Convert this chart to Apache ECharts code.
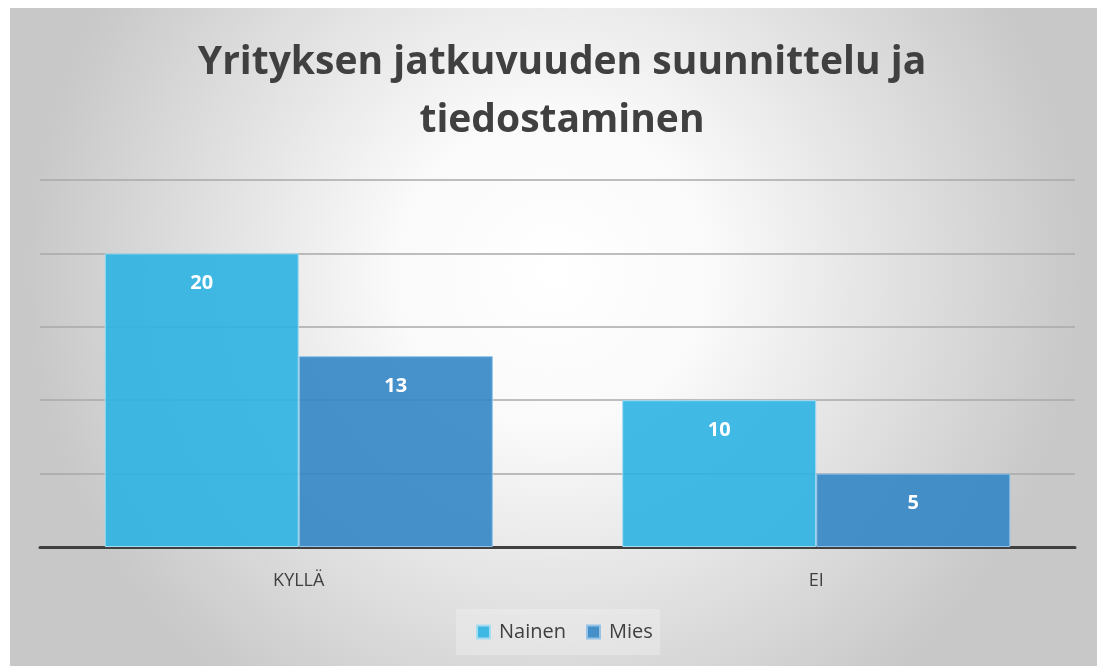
<!DOCTYPE html>
<html>
<head>
<meta charset="utf-8">
<script src="https://cdn.jsdelivr.net/npm/echarts@6/dist/echarts.min.js"></script>
<style>
html,body{margin:0;padding:0;background:#fff;}
#c{width:1097px;height:666px;}
</style>
</head>
<body>
<div id="c"></div>
<script>
const categories = ['KYLLÄ', 'EI'];
const seriesNames = ['Nainen', 'Mies'];
const nainen = [20, 10];
const mies = [13, 5];
const titleText = 'Yrityksen jatkuvuuden suunnittelu ja\ntiedostaminen';

const chart = echarts.init(document.getElementById('c'));
const font = '"Open Sans", sans-serif';
chart.setOption({
  animation: false,
  backgroundColor: '#ffffff',
  graphic: [{
    type: 'rect',
    z: -10,
    shape: {x: 10, y: 8, width: 1087, height: 658},
    style: {
      fill: new echarts.graphic.RadialGradient(0.5, 0.4, 0.8, [
        {offset: 0, color: '#ffffff'},
        {offset: 0.3, color: '#fafafa'},
        {offset: 1, color: '#c8c8c8'}
      ])
    }
  }, {
    type: 'rect',
    z: -5,
    shape: {x: 456, y: 609, width: 204, height: 46},
    style: {fill: 'rgba(250,250,250,0.3)'}
  }],
  title: {
    text: titleText,
    left: 557,
    textAlign: 'center',
    top: 29,
    textStyle: {
      fontFamily: font,
      fontWeight: 'bold',
      fontSize: 39,
      lineHeight: 58,
      color: '#404040'
    }
  },
  legend: {
    data: seriesNames,
    bottom: 19,
    left: 471,
    itemWidth: 13,
    itemHeight: 13,
    itemGap: 20,
    icon: 'rect',
    textStyle: {fontFamily: font, fontSize: 20, color: '#404040', padding: [0,0,0,4]}
  },
  grid: {left: 40, right: 22, top: 180, bottom: 119, containLabel: false},
  xAxis: {
    type: 'category',
    data: categories,
    axisLine: {lineStyle: {color: '#404040', width: 3}},
    axisTick: {show: false},
    axisLabel: {fontFamily: font, fontSize: 18, color: '#404040', margin: 25}
  },
  yAxis: {
    type: 'value',
    min: 0,
    max: 25,
    interval: 5,
    axisLabel: {show: false},
    axisLine: {show: false},
    axisTick: {show: false},
    splitLine: {lineStyle: {color: '#a8a8a8', width: 1.5}}
  },
  series: [{
    name: seriesNames[0],
    type: 'bar',
    data: nainen,
    barGap: '0%',
    barCategoryGap: '25%',
    itemStyle: {color: 'rgba(45,178,227,0.9)', borderColor: '#a6dcf2', borderWidth: 1},
    label: {show: true, position: 'insideTop', distance: 20, color: '#fff', fontFamily: font, fontWeight: 'bold', fontSize: 20}
  }, {
    name: seriesNames[1],
    type: 'bar',
    data: mies,
    itemStyle: {color: 'rgba(52,134,198,0.9)', borderColor: '#93c4e8', borderWidth: 1},
    label: {show: true, position: 'insideTop', distance: 20, color: '#fff', fontFamily: font, fontWeight: 'bold', fontSize: 20}
  }]
});
</script>
</body>
</html>
